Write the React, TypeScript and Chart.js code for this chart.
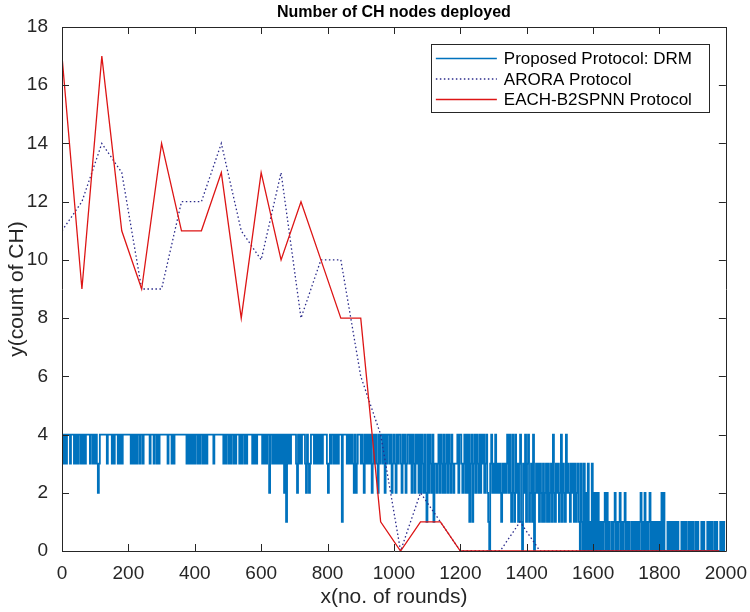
import React, { useEffect, useRef } from "react";
import { Chart, registerables } from "chart.js";

Chart.register(...registerables);

const chartTitle = "Number of CH nodes deployed";
const xAxisTitle = "x(no. of rounds)";
const yAxisTitle = "y(count of CH)";
const seriesNames = ["Proposed Protocol: DRM", "ARORA Protocol", "EACH-B2SPNN Protocol"];

const xTicks = [0, 200, 400, 600, 800, 1000, 1200, 1400, 1600, 1800, 2000];
const yTicks = [0, 2, 4, 6, 8, 10, 12, 14, 16, 18];

// ARORA and EACH-B2SPNN are reported every 60 rounds
const sampleStep = 60;
const aroraCH = [
  11, 12, 14, 13, 9, 9, 12, 12, 14, 11, 10, 13, 8, 10, 10, 6, 4, 0, 2, 1, 0, 0, 0, 1, 0,
  0, 0, 0, 0, 0, 0, 0, 0, 0,
];
const eachCH = [
  17, 9, 17, 11, 9, 14, 11, 11, 13, 8, 13, 10, 12, 10, 8, 8, 1, 0, 1, 1, 0, 0, 0, 0, 0,
  0, 0, 0, 0, 0, 0, 0, 0, 0,
];

// DRM: CH count per block of 3 rounds, 50 blocks per string (spaces only group digits)
const drmBlockRounds = 3;
const drmBlocksPerRow = 50;
const drmBlocks = [
  "34343 444 34 44 34343 4 434 343 4444 34434 34323 4444444 3 4444",
  "343 444 3 4 3434 4444444 3434343 44 34434 44444 3 444 3 44 3434 4",
  "444444 3 444 343 444444444444 343434343 44 343 44 343434 444",
  "44 3 444444444 343 4 43434 4 3434 44 3434 4 343 44444 343434 444",
  "4 343434 4 2 44 343434 34343 4 2 4 1 43434 4444 324343 444 324323",
  "444 34343 43434 444 32343 44 343434 44 1 4444 34343 432423 444",
  "3432434343 4234343243 4434243443 4234324344 3243423443",
  "4243243424 2432421424 3241332342 4324234243 2432333424",
  "4323424241 3413424324 2434234210 3423242323 2132323424",
  "2142142313 4103241341 2314023231 3213123131 2314213231",
  "24132142321 323 131231 031030203 01030 202 0201 0 10 1202 0 1",
  "0010120101 2010120101 0010101010 1201020101 2010101010",
  "1020200010 1010101010 0010101001 0101001010 0010100010",
  "10100101000101011",
];

const FONT = "'Liberation Sans', Arial, sans-serif";
const AXIS_COLOR = "#262626";

function buildDrmPoints() {
  const pts: { x: number; y: number }[] = [];
  drmBlocks.forEach((row, r) => {
    const digits = row.replace(/\s+/g, "");
    for (let j = 0; j < digits.length; j++) {
      pts.push({ x: (r * drmBlocksPerRow + j) * drmBlockRounds, y: Number(digits[j]) });
    }
  });
  return pts;
}

function sampled(values: number[]) {
  return values.map((v, i) => ({ x: i * sampleStep, y: v }));
}

// Box, inward ticks, titles and the legend, drawn in MATLAB style
const framePlugin = {
  id: "frame",
  afterDraw(chart: any) {
    const { ctx, chartArea: a, scales } = chart;
    const xs = scales.x;
    const ys = scales.y;
    const tick = 7;
    ctx.save();
    ctx.strokeStyle = AXIS_COLOR;
    ctx.lineWidth = 1;
    ctx.beginPath();
    ctx.rect(Math.round(a.left) + 0.5, Math.round(a.top) + 0.5, Math.round(a.right - a.left), Math.round(a.bottom - a.top));
    xTicks.forEach((v) => {
      const px = Math.round(xs.getPixelForValue(v)) + 0.5;
      ctx.moveTo(px, a.bottom);
      ctx.lineTo(px, a.bottom - tick);
      ctx.moveTo(px, a.top);
      ctx.lineTo(px, a.top + tick);
    });
    yTicks.forEach((v) => {
      const py = Math.round(ys.getPixelForValue(v)) + 0.5;
      ctx.moveTo(a.left, py);
      ctx.lineTo(a.left + tick, py);
      ctx.moveTo(a.right, py);
      ctx.lineTo(a.right - tick, py);
    });
    ctx.stroke();

    // titles
    ctx.fillStyle = "#000";
    ctx.textAlign = "center";
    ctx.textBaseline = "middle";
    ctx.font = `bold 16px ${FONT}`;
    ctx.fillText(chartTitle, (a.left + a.right) / 2, 13);
    ctx.fillStyle = AXIS_COLOR;
    ctx.font = `21px ${FONT}`;
    ctx.fillText(xAxisTitle, (a.left + a.right) / 2, 597);
    ctx.save();
    ctx.translate(17, (a.top + a.bottom) / 2);
    ctx.rotate(-Math.PI / 2);
    ctx.fillText(yAxisTitle, 0, 0);
    ctx.restore();

    // legend
    const lx = a.right - 295;
    const ly = a.top + 17;
    const lw = 278;
    const lh = 68;
    ctx.fillStyle = "#fff";
    ctx.fillRect(lx, ly, lw, lh);
    ctx.strokeStyle = AXIS_COLOR;
    ctx.lineWidth = 1;
    ctx.strokeRect(Math.round(lx) + 0.5, Math.round(ly) + 0.5, lw, lh);
    ctx.font = `17px ${FONT}`;
    ctx.textAlign = "left";
    ctx.fillStyle = "#000";
    chart.data.datasets.forEach((ds: any, i: number) => {
      const rowY = ly + 14.5 + i * 20.5;
      ctx.beginPath();
      ctx.strokeStyle = ds.borderColor;
      ctx.lineWidth = Math.min(ds.borderWidth, 1.3);
      ctx.setLineDash(ds.borderDash || []);
      ctx.moveTo(lx + 5, rowY);
      ctx.lineTo(lx + 66, rowY);
      ctx.stroke();
      ctx.setLineDash([]);
      ctx.fillText(ds.label, lx + 73, rowY + 1);
    });
    ctx.restore();
  },
};

export default function App() {
  const canvasRef = useRef<HTMLCanvasElement | null>(null);

  useEffect(() => {
    const canvas = canvasRef.current;
    if (!canvas) return;
    const tickFont = { family: FONT, size: 19 };
    const plain = (v: any) => String(v);
    const chart = new Chart(canvas, {
      type: "line",
      data: {
        datasets: [
          {
            label: seriesNames[0],
            data: buildDrmPoints(),
            borderColor: "#0072BD",
            borderWidth: 1.8,
            pointRadius: 0,
            stepped: true,
            order: 3,
          },
          {
            label: seriesNames[1],
            data: sampled(aroraCH),
            borderColor: "#2a2a8a",
            borderWidth: 1.3,
            borderDash: [1.5, 2.5],
            pointRadius: 0,
            tension: 0,
            order: 2,
          },
          {
            label: seriesNames[2],
            data: sampled(eachCH),
            borderColor: "#dd1515",
            borderWidth: 1.3,
            pointRadius: 0,
            tension: 0,
            order: 1,
          },
        ],
      },
      options: {
        responsive: false,
        animation: false,
        layout: { padding: { left: 0, top: 27, right: 23, bottom: 0 } },
        plugins: {
          legend: { display: false },
          tooltip: { enabled: false },
          title: { display: false },
        },
        scales: {
          x: {
            type: "linear",
            min: 0,
            max: 2000,
            grid: { display: false },
            border: { display: false },
            ticks: { font: tickFont, color: AXIS_COLOR, padding: 3, maxRotation: 0, callback: plain },
            afterBuildTicks: (s: any) => {
              s.ticks = xTicks.map((v) => ({ value: v }));
            },
            afterFit: (s: any) => {
              s.height = 61;
            },
          },
          y: {
            type: "linear",
            min: 0,
            max: 18,
            grid: { display: false },
            border: { display: false },
            ticks: { font: tickFont, color: AXIS_COLOR, padding: 6, callback: plain },
            afterBuildTicks: (s: any) => {
              s.ticks = yTicks.map((v) => ({ value: v }));
            },
            afterFit: (s: any) => {
              s.width = 62;
            },
          },
        },
      },
      plugins: [framePlugin],
    });
    return () => chart.destroy();
  }, []);

  return (
    <div style={{ position: "fixed", left: 0, top: 0, width: 750, height: 612, background: "#fff" }}>
      <canvas ref={canvasRef} width={750} height={612} />
    </div>
  );
}
